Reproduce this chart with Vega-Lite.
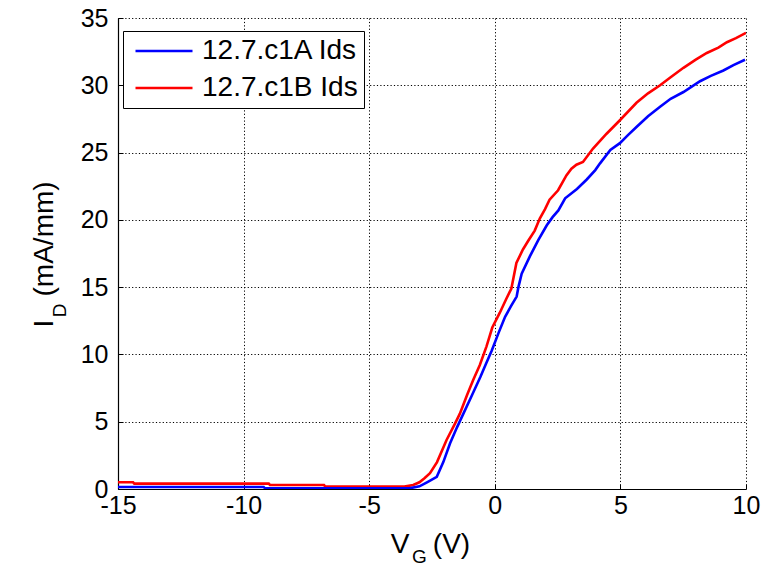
{
  "$schema": "https://vega.github.io/schema/vega-lite/v6.json",
  "width": 628,
  "height": 471,
  "autosize": {"type": "none"},
  "padding": {"left": 118, "top": 18, "right": 31, "bottom": 75},
  "background": "white",
  "config": {
    "view": {"stroke": null},
    "font": "Liberation Sans",
    "axis": {
      "labelFont": "Liberation Sans",
      "titleFont": "Liberation Sans",
      "labelColor": "black",
      "titleColor": "black",
      "titleFontWeight": "normal",
      "domainColor": "black",
      "domainWidth": 1.2,
      "tickColor": "black",
      "tickWidth": 1,
      "gridColor": "black",
      "gridOpacity": 1,
      "gridWidth": 1,
      "gridDash": [1.2, 2.2]
    }
  },
  "datasets": {
    "curves": [
      {"vg": -15.0, "id": 0.5, "device": "12.7.c1B Ids"},
      {"vg": -14.4, "id": 0.5, "device": "12.7.c1B Ids"},
      {"vg": -14.35, "id": 0.4, "device": "12.7.c1B Ids"},
      {"vg": -9.0, "id": 0.4, "device": "12.7.c1B Ids"},
      {"vg": -8.95, "id": 0.3, "device": "12.7.c1B Ids"},
      {"vg": -6.8, "id": 0.3, "device": "12.7.c1B Ids"},
      {"vg": -6.75, "id": 0.18, "device": "12.7.c1B Ids"},
      {"vg": -3.6, "id": 0.18, "device": "12.7.c1B Ids"},
      {"vg": -3.25, "id": 0.3, "device": "12.7.c1B Ids"},
      {"vg": -3.0, "id": 0.5, "device": "12.7.c1B Ids"},
      {"vg": -2.8, "id": 0.8, "device": "12.7.c1B Ids"},
      {"vg": -2.58, "id": 1.17, "device": "12.7.c1B Ids"},
      {"vg": -2.3, "id": 2.0, "device": "12.7.c1B Ids"},
      {"vg": -1.92, "id": 3.64, "device": "12.7.c1B Ids"},
      {"vg": -1.6, "id": 4.8, "device": "12.7.c1B Ids"},
      {"vg": -1.39, "id": 5.6, "device": "12.7.c1B Ids"},
      {"vg": -1.1, "id": 7.0, "device": "12.7.c1B Ids"},
      {"vg": -0.86, "id": 8.1, "device": "12.7.c1B Ids"},
      {"vg": -0.6, "id": 9.2, "device": "12.7.c1B Ids"},
      {"vg": -0.33, "id": 10.6, "device": "12.7.c1B Ids"},
      {"vg": -0.1, "id": 12.0, "device": "12.7.c1B Ids"},
      {"vg": 0.2, "id": 13.1, "device": "12.7.c1B Ids"},
      {"vg": 0.45, "id": 14.1, "device": "12.7.c1B Ids"},
      {"vg": 0.66, "id": 14.9, "device": "12.7.c1B Ids"},
      {"vg": 0.86, "id": 16.8, "device": "12.7.c1B Ids"},
      {"vg": 1.12, "id": 17.8, "device": "12.7.c1B Ids"},
      {"vg": 1.35, "id": 18.5, "device": "12.7.c1B Ids"},
      {"vg": 1.59, "id": 19.2, "device": "12.7.c1B Ids"},
      {"vg": 1.79, "id": 20.1, "device": "12.7.c1B Ids"},
      {"vg": 2.0, "id": 20.8, "device": "12.7.c1B Ids"},
      {"vg": 2.18, "id": 21.5, "device": "12.7.c1B Ids"},
      {"vg": 2.52, "id": 22.2, "device": "12.7.c1B Ids"},
      {"vg": 2.85, "id": 23.3, "device": "12.7.c1B Ids"},
      {"vg": 3.05, "id": 23.8, "device": "12.7.c1B Ids"},
      {"vg": 3.25, "id": 24.1, "device": "12.7.c1B Ids"},
      {"vg": 3.51, "id": 24.3, "device": "12.7.c1B Ids"},
      {"vg": 3.91, "id": 25.3, "device": "12.7.c1B Ids"},
      {"vg": 4.45, "id": 26.4, "device": "12.7.c1B Ids"},
      {"vg": 4.98, "id": 27.4, "device": "12.7.c1B Ids"},
      {"vg": 5.64, "id": 28.7, "device": "12.7.c1B Ids"},
      {"vg": 6.1, "id": 29.4, "device": "12.7.c1B Ids"},
      {"vg": 6.58, "id": 30.0, "device": "12.7.c1B Ids"},
      {"vg": 7.0, "id": 30.6, "device": "12.7.c1B Ids"},
      {"vg": 7.51, "id": 31.3, "device": "12.7.c1B Ids"},
      {"vg": 8.0, "id": 31.9, "device": "12.7.c1B Ids"},
      {"vg": 8.44, "id": 32.4, "device": "12.7.c1B Ids"},
      {"vg": 8.9, "id": 32.8, "device": "12.7.c1B Ids"},
      {"vg": 9.24, "id": 33.2, "device": "12.7.c1B Ids"},
      {"vg": 9.6, "id": 33.5, "device": "12.7.c1B Ids"},
      {"vg": 10.0, "id": 33.9, "device": "12.7.c1B Ids"},
      {"vg": -15.0, "id": 0.15, "device": "12.7.c1A Ids"},
      {"vg": -9.2, "id": 0.15, "device": "12.7.c1A Ids"},
      {"vg": -9.15, "id": 0.05, "device": "12.7.c1A Ids"},
      {"vg": -3.4, "id": 0.05, "device": "12.7.c1A Ids"},
      {"vg": -3.0, "id": 0.2, "device": "12.7.c1A Ids"},
      {"vg": -2.7, "id": 0.5, "device": "12.7.c1A Ids"},
      {"vg": -2.31, "id": 0.9, "device": "12.7.c1A Ids"},
      {"vg": -2.05, "id": 2.0, "device": "12.7.c1A Ids"},
      {"vg": -1.78, "id": 3.4, "device": "12.7.c1A Ids"},
      {"vg": -1.5, "id": 4.6, "device": "12.7.c1A Ids"},
      {"vg": -1.25, "id": 5.6, "device": "12.7.c1A Ids"},
      {"vg": -0.9, "id": 7.0, "device": "12.7.c1A Ids"},
      {"vg": -0.58, "id": 8.3, "device": "12.7.c1A Ids"},
      {"vg": -0.35, "id": 9.3, "device": "12.7.c1A Ids"},
      {"vg": -0.12, "id": 10.3, "device": "12.7.c1A Ids"},
      {"vg": 0.15, "id": 11.6, "device": "12.7.c1A Ids"},
      {"vg": 0.41, "id": 12.8, "device": "12.7.c1A Ids"},
      {"vg": 0.65, "id": 13.6, "device": "12.7.c1A Ids"},
      {"vg": 0.87, "id": 14.3, "device": "12.7.c1A Ids"},
      {"vg": 0.94, "id": 15.0, "device": "12.7.c1A Ids"},
      {"vg": 1.07, "id": 16.0, "device": "12.7.c1A Ids"},
      {"vg": 1.4, "id": 17.3, "device": "12.7.c1A Ids"},
      {"vg": 1.73, "id": 18.5, "device": "12.7.c1A Ids"},
      {"vg": 2.07, "id": 19.6, "device": "12.7.c1A Ids"},
      {"vg": 2.3, "id": 20.2, "device": "12.7.c1A Ids"},
      {"vg": 2.53, "id": 20.7, "device": "12.7.c1A Ids"},
      {"vg": 2.8, "id": 21.6, "device": "12.7.c1A Ids"},
      {"vg": 3.27, "id": 22.3, "device": "12.7.c1A Ids"},
      {"vg": 3.66, "id": 23.0, "device": "12.7.c1A Ids"},
      {"vg": 4.0, "id": 23.7, "device": "12.7.c1A Ids"},
      {"vg": 4.19, "id": 24.2, "device": "12.7.c1A Ids"},
      {"vg": 4.6, "id": 25.2, "device": "12.7.c1A Ids"},
      {"vg": 4.98, "id": 25.7, "device": "12.7.c1A Ids"},
      {"vg": 5.3, "id": 26.3, "device": "12.7.c1A Ids"},
      {"vg": 5.64, "id": 26.9, "device": "12.7.c1A Ids"},
      {"vg": 6.1, "id": 27.7, "device": "12.7.c1A Ids"},
      {"vg": 6.58, "id": 28.4, "device": "12.7.c1A Ids"},
      {"vg": 7.0, "id": 29.0, "device": "12.7.c1A Ids"},
      {"vg": 7.51, "id": 29.5, "device": "12.7.c1A Ids"},
      {"vg": 8.17, "id": 30.3, "device": "12.7.c1A Ids"},
      {"vg": 8.6, "id": 30.7, "device": "12.7.c1A Ids"},
      {"vg": 9.1, "id": 31.1, "device": "12.7.c1A Ids"},
      {"vg": 9.5, "id": 31.5, "device": "12.7.c1A Ids"},
      {"vg": 9.96, "id": 31.9, "device": "12.7.c1A Ids"}
    ]
  },
  "data": {"name": "curves"},
  "resolve": {"axis": {"x": "independent", "y": "independent"}},
  "layer": [
    {
      "mark": {"type": "line", "strokeWidth": 2.6, "clip": true},
      "encoding": {
        "x": {
          "field": "vg",
          "type": "quantitative",
          "scale": {"domain": [-15, 10], "nice": false, "zero": false},
          "axis": {
            "orient": "bottom",
            "values": [-15, -10, -5, 0, 5, 10],
            "labelExpr": "'' + datum.value",
            "grid": true,
            "labelFontSize": 25,
            "labelPadding": 9,
            "tickSize": -5,
            "labelFlush": false,
            "labelOverlap": false,
            "title": "V\u00a0\u00a0\u00a0(V)",
            "titleFontSize": 28,
            "titleX": 312,
            "titleY": 63,
            "titleAlign": "center",
            "titleBaseline": "alphabetic"
          }
        },
        "y": {
          "field": "id",
          "type": "quantitative",
          "scale": {"domain": [0, 35], "nice": false},
          "axis": {
            "orient": "left",
            "values": [0, 5, 10, 15, 20, 25, 30, 35],
            "labelExpr": "'' + datum.value",
            "grid": true,
            "labelFontSize": 25,
            "labelPadding": 15,
            "tickSize": -5,
            "labelFlush": false,
            "labelOverlap": false,
            "title": "I\u00a0\u00a0\u00a0(mA/mm)",
            "titleFontSize": 28,
            "titleAngle": 270,
            "titleX": -66,
            "titleY": 236,
            "titleAlign": "center",
            "titleBaseline": "alphabetic"
          }
        },
        "color": {
          "field": "device",
          "type": "nominal",
          "scale": {
            "domain": ["12.7.c1A Ids", "12.7.c1B Ids"],
            "range": ["#0000ff", "#ff0000"]
          },
          "legend": {
            "title": null,
            "orient": "none",
            "legendX": 5,
            "legendY": 13,
            "direction": "vertical",
            "fillColor": "white",
            "strokeColor": "black",
            "cornerRadius": 0,
            "padding": 6,
            "symbolType": "M-3,0H3",
            "symbolSize": 361,
            "symbolStrokeWidth": 2.6,
            "symbolOffset": 21,
            "labelFont": "Liberation Sans",
            "labelFontSize": 28,
            "labelColor": "black",
            "labelOffset": 24,
            "labelLimit": 400,
            "rowPadding": 9
          }
        }
      }
    },
    {
      "mark": {"type": "line", "opacity": 0},
      "encoding": {
        "x": {
          "field": "vg",
          "type": "quantitative",
          "axis": {
            "orient": "bottom",
            "domain": false,
            "ticks": false,
            "labels": false,
            "grid": false,
            "title": "G",
            "titleFontSize": 19,
            "titleX": 301,
            "titleY": 73,
            "titleAlign": "center",
            "titleBaseline": "alphabetic"
          }
        },
        "y": {
          "field": "id",
          "type": "quantitative",
          "axis": {
            "orient": "left",
            "domain": false,
            "ticks": false,
            "labels": false,
            "grid": false,
            "title": "D",
            "titleFontSize": 19,
            "titleAngle": 270,
            "titleX": -53,
            "titleY": 292,
            "titleAlign": "center",
            "titleBaseline": "alphabetic"
          }
        }
      }
    }
  ]
}
